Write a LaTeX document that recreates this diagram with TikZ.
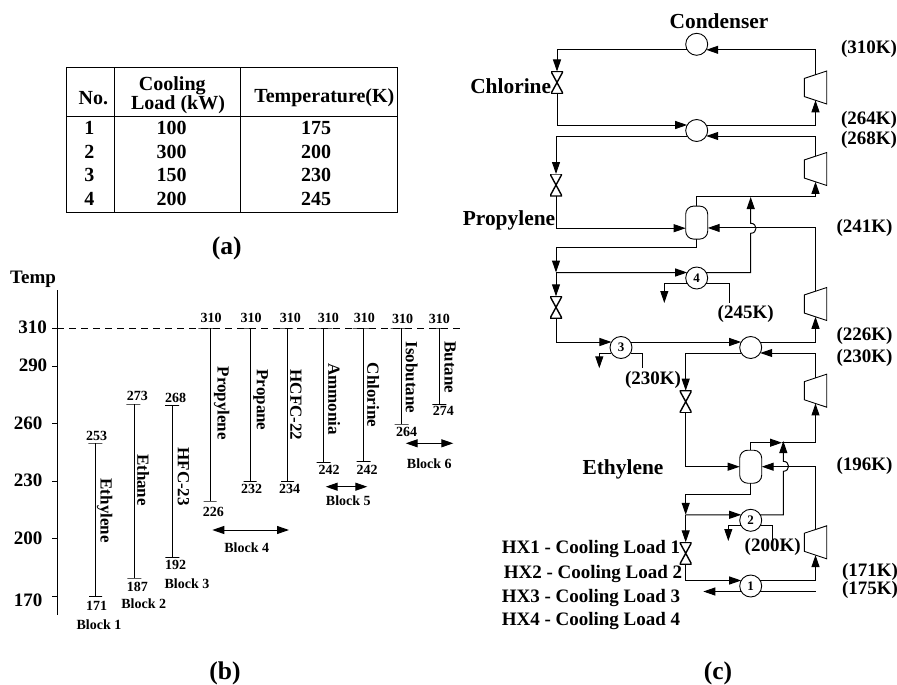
\documentclass[tikz,border=0pt]{standalone}
\usepackage{fontspec}
\setmainfont{Liberation Serif}
\usepackage{tikz}
\usetikzlibrary{shapes.geometric, arrows.meta}
\tikzstyle{line} = [line width=1pt]
\tikzstyle{arrow} = [line width=1pt,->,>={Triangle[length=12pt,width=8pt]}]
\tikzstyle{twoway} = [line width=1pt,<->,>={Triangle[length=12pt,width=8pt]}]
\tikzstyle{hx} = [circle, draw=black, line width=0.9pt, minimum size=22pt, inner sep=0pt, outer sep=0pt, font=\fontsize{13}{13}\selectfont\bfseries]
\tikzstyle{drum} = [rectangle, rounded corners=8pt, draw=black, line width=0.9pt, minimum width=22pt, minimum height=33pt, inner sep=0pt, outer sep=0pt]
\tikzstyle{valve} = [rectangle, minimum width=12pt, minimum height=22pt, inner sep=0pt, outer sep=0pt, path picture={\draw [line width=1.4pt] (path picture bounding box.north west) -- (path picture bounding box.south east) -- (path picture bounding box.south west) -- (path picture bounding box.north east) -- cycle;}]
\tikzstyle{comp} = [trapezium, trapezium angle=65.9, trapezium stretches=true, rotate=90, draw=black, line width=0.9pt, minimum width=33pt, minimum height=22.4pt, inner sep=0pt, outer sep=0pt]
\tikzstyle{tick} = [rectangle, draw=black, line width=1pt, minimum height=0pt, inner sep=0pt, outer sep=0pt]
\tikzstyle{big} = [inner sep=0pt, font=\fontsize{21.4}{21.4}\selectfont\bfseries]
\tikzstyle{temp} = [inner sep=0pt, font=\fontsize{19}{19}\selectfont\bfseries]
\tikzstyle{cell} = [inner sep=0pt, font=\fontsize{20}{20}\selectfont\bfseries]
\tikzstyle{caption} = [inner sep=0pt, font=\fontsize{25.5}{25.5}\selectfont\bfseries]
\tikzstyle{small} = [inner sep=0pt, font=\fontsize{14}{14}\selectfont\bfseries]
\tikzstyle{fluid} = [inner sep=0pt, rotate=-90, font=\fontsize{17}{17}\selectfont\bfseries]

\begin{document}
\begin{tikzpicture}[x=1pt, y=-1pt]
\useasboundingbox (0,0) rectangle (897,685);

% Table
\node (tab) [rectangle, draw=black, line width=1pt, minimum width=330.3pt, minimum height=144pt, inner sep=0pt, outer sep=0pt] at (231.85,140) {};
\coordinate (headl) at (66.7,116);
\coordinate (headr) at (397,116);
\coordinate (coll) at (114.7,68);
\coordinate (colm) at (240.7,68);
\draw [line] (headl) -- (headr);
\draw [line] (coll) -- (coll |- tab.south);
\draw [line] (colm) -- (colm |- tab.south);
\node (no) [cell] at (93.3,97.7) {No.};
\node (cool) [cell] at (172.3,86) {Cooling};
\node (load) [cell] at (178,104.3) {Load (kW)};
\node (tmp) [cell] at (324.3,98) {Temperature(K)};
\node (n1) [cell] at (89.3,127.7) {1};
\node (n2) [cell] at (89.3,151.7) {2};
\node (n3) [cell] at (89.3,175.3) {3};
\node (n4) [cell] at (89.3,199) {4};
\node (l1) [cell] at (171.7,127.7) {100};
\node (l2) [cell] at (171.7,151.7) {300};
\node (l3) [cell] at (171.7,175.3) {150};
\node (l4) [cell] at (171.7,199) {200};
\node (t1) [cell] at (316,127.7) {175};
\node (t2) [cell] at (316,151.7) {200};
\node (t3) [cell] at (316,175.3) {230};
\node (t4) [cell] at (316,199) {245};
\node (capa) [caption] at (226.7,248) {(a)};

% Temperature axis
\coordinate (axtop) at (57,290);
\coordinate (axbot) at (57,615);
\coordinate (dashr) at (461.7,328);
\draw [line] (axtop) -- (axbot);
\node (temp) [temp] at (33,279) {Temp};
\node (a310) [temp] at (32.7,327) {310};
\node (a290) [temp] at (33,365.5) {290};
\node (a260) [temp] at (28,423) {260};
\node (a230) [temp] at (28,480) {230};
\node (a200) [temp] at (28,538) {200};
\node (a170) [temp] at (28,600) {170};
\coordinate (m310) at (52.3,328);
\coordinate (m290) at (52.3,366.3);
\coordinate (m260) at (52.3,423.7);
\coordinate (m230) at (52.3,481.3);
\coordinate (m200) at (52.3,538.7);
\coordinate (m170) at (52.3,596.3);
\draw [line] (m310) -- (axtop |- m310);
\draw [line] (m290) -- (axtop |- m290);
\draw [line] (m260) -- (axtop |- m260);
\draw [line] (m230) -- (axtop |- m230);
\draw [line] (m200) -- (axtop |- m200);
\draw [line] (m170) -- (axtop |- m170);
\draw [line, dash pattern=on 7pt off 5pt] (axtop |- m310) -- (dashr);

% Fluid bars, blocks 1 to 3
\node (ethyT) [tick, minimum width=14pt] at (95.3,443) {};
\node (ethyB) [tick, minimum width=13pt] at (95.7,596.3) {};
\draw [line] (ethyB.center) -- (ethyB.center |- ethyT.center);
\node (ethy1) [small] at (96.7,436) {253};
\node (ethy2) [small] at (96.7,606) {171};
\node (ethyN) [fluid] at (104.7,510.7) {Ethylene};
\node (blk1) [small] at (99,625) {Block 1};

\node (ethaT) [tick, minimum width=14pt] at (133.3,404) {};
\node (ethaB) [tick, minimum width=14pt] at (134.3,578) {};
\draw [line] (ethaB.center) -- (ethaB.center |- ethaT.center);
\node (etha1) [small] at (137.3,396.3) {273};
\node (etha2) [small] at (137.3,586.7) {187};
\node (ethaN) [fluid] at (143.3,480) {Ethane};
\node (blk2) [small] at (143.7,603.3) {Block 2};

\node (hfcT) [tick, minimum width=14pt] at (172,405.7) {};
\node (hfcB) [tick, minimum width=14pt] at (172.3,557.3) {};
\draw [line] (hfcB.center) -- (hfcB.center |- hfcT.center);
\node (hfc1) [small] at (175.7,398.3) {268};
\node (hfc2) [small] at (175.7,565) {192};
\node (hfcN) [fluid] at (183.3,476.7) {HFC-23};
\node (blk3) [small] at (187,584) {Block 3};

% Block 4
\node (propyT) [tick, minimum width=18.5pt] at (207.5,328) {};
\node (propyB) [tick, minimum width=13pt] at (210,501) {};
\draw [line] (propyB.center) -- (propyB.center |- propyT.center);
\node (propy1) [small] at (211,318.3) {310};
\node (propy2) [small] at (213.3,512.3) {226};
\node (propyN) [fluid] at (221.7,403.3) {Propylene};

\node (propaT) [tick, minimum width=18pt] at (246.2,328) {};
\node (propaB) [tick, minimum width=13pt] at (250,481.3) {};
\draw [line] (propaB.center) -- (propaB.center |- propaT.center);
\node (propa1) [small] at (251,318.3) {310};
\node (propa2) [small] at (251.7,489) {232};
\node (propaN) [fluid] at (260.7,400) {Propane};

\node (hcfcT) [tick, minimum width=17pt] at (284.7,328) {};
\node (hcfcB) [tick, minimum width=13pt] at (287.7,481.3) {};
\draw [line] (hcfcB.center) -- (hcfcB.center |- hcfcT.center);
\node (hcfc1) [small] at (290.3,318.3) {310};
\node (hcfc2) [small] at (289.7,489) {234};
\node (hcfcN) [fluid] at (296,405) {HCFC-22};

\coordinate (b4l) at (212.3,530);
\coordinate (b4r) at (289,530);
\draw [twoway] (b4l) -- (b4r);
\node (blk4) [small] at (246.7,547.3) {Block 4};

% Block 5
\node (ammT) [tick, minimum width=19pt] at (322.8,328) {};
\node (ammB) [tick, minimum width=14pt] at (323.7,462.3) {};
\draw [line] (ammB.center) -- (ammB.center |- ammT.center);
\node (amm1) [small] at (328.3,318.3) {310};
\node (amm2) [small] at (329,470) {242};
\node (ammN) [fluid] at (334.3,399) {Ammonia};

\node (chloT) [tick, minimum width=18pt] at (361.7,328) {};
\node (chloB) [tick, minimum width=14pt] at (363.7,461.7) {};
\draw [line] (chloB.center) -- (chloB.center |- chloT.center);
\node (chlo1) [small] at (364.3,318.3) {310};
\node (chlo2) [small] at (367,469.7) {242};
\node (chloN) [fluid] at (373.3,395) {Chlorine};

\coordinate (b5l) at (325.7,486.7);
\coordinate (b5r) at (367.3,486.7);
\draw [twoway] (b5l) -- (b5r);
\node (blk5) [small] at (348.3,501) {Block 5};

% Block 6
\node (isoT) [tick, minimum width=19pt] at (400,328) {};
\node (isoB) [tick, minimum width=14pt] at (401.7,424) {};
\draw [line] (isoB.center) -- (isoB.center |- isoT.center);
\node (iso1) [small] at (402.7,319) {310};
\node (iso2) [small] at (406.7,432.3) {264};
\node (isoN) [fluid] at (411.7,377.3) {Isobutane};

\node (butT) [tick, minimum width=17pt] at (437.5,328) {};
\node (butB) [tick, minimum width=14pt] at (439.3,404.3) {};
\draw [line] (butB.center) -- (butB.center |- butT.center);
\node (but1) [small] at (439.3,319) {310};
\node (but2) [small] at (443.3,411.3) {274};
\node (butN) [fluid] at (450,367.3) {Butane};

\coordinate (b6l) at (405.7,443.3);
\coordinate (b6r) at (453.3,443.3);
\draw [twoway] (b6l) -- (b6r);
\node (blk6) [small] at (429.3,463.3) {Block 6};
\node (capb) [caption] at (225,673) {(b)};

% Cascade equipment
\node (cond) [hx] at (696.7,44.3) {};
\node (cas1) [hx] at (696.7,130.5) {};
\node (drum1) [drum] at (696.7,222.6) {};
\node (hx4) [hx] at (696.7,278) {4};
\node (hx3) [hx] at (621,347.5) {3};
\node (cas2) [hx] at (750.7,347.5) {};
\node (drum2) [drum] at (750.7,466.7) {};
\node (hx2) [hx] at (750.7,520.3) {2};
\node (hx1) [hx] at (750.7,586) {1};
\node (v1) [valve] at (557,82.5) {};
\node (v2) [valve] at (556,185) {};
\node (v3) [valve] at (556,307.3) {};
\node (v4) [valve] at (685.7,401.7) {};
\node (v5) [valve] at (685.7,553.3) {};
\node (c1) [comp] at (815.5,87.5) {\phantom{x}};
\node (c2) [comp] at (815.5,169) {\phantom{x}};
\node (c3) [comp] at (815.5,304) {\phantom{x}};
\node (c4) [comp] at (815.5,390.7) {\phantom{x}};
\node (c5) [comp] at (815.5,542.3) {\phantom{x}};

% Chlorine loop
\draw [arrow] (c1.right side) |- (cond.-30);
\draw [arrow] (cond.-150) -| (v1.north);
\draw [arrow] (v1.south) |- (cas1.150);
\draw [arrow] (cas1.30) -| (c1.left side);

% Propylene loop
\coordinate (p1) at (815.5,196);
\coordinate (p2) at (556,247);
\coordinate (p3) at (556,272.5);
\coordinate (p4) at (750.7,197);
\coordinate (p5) at (729,303);
\coordinate (p6) at (664.3,303);
\coordinate (hopa) at (750.7,233.3);
\coordinate (hopb) at (750.7,223.3);
\draw [arrow] (c2.right side) |- (cas1.-30);
\draw [arrow] (cas1.-150) -| (v2.north);
\draw [arrow] (v2.south) |- (drum1.-153.4);
\draw [arrow] (c3.right side) |- (drum1.-26.6);
\draw [line] (drum1.north) |- (p1);
\draw [arrow] (p1) -- (c2.left side);
\draw [line] (drum1.south) |- (p2);
\draw [arrow] (p2) -- (p3);
\draw [arrow] (p3) -- (hx4.150);
\draw [arrow] (p3) -- (v3.north);
\draw [arrow] (hx4.30) -| (hopa) .. controls +(7,0) and +(7,0) .. (hopb) -- (p4);
\draw [line] (hx4.-30) -| (p5);
\draw [arrow] (hx4.-150) -| (p6);

% Ethylene loop
\coordinate (e1) at (782,442.7);
\coordinate (e2) at (685.7,494.3);
\coordinate (e3) at (685.7,514.8);
\coordinate (e4) at (783.3,441);
\coordinate (e5) at (772.7,541.7);
\coordinate (e6) at (728.3,541);
\coordinate (e7) at (642.7,368.3);
\coordinate (e8) at (599.3,368.3);
\coordinate (e9) at (703.3,590);
\coordinate (hopc) at (783.3,471.3);
\coordinate (hopd) at (783.3,461.3);
\draw [arrow] (v3.south) |- (hx3.150);
\draw [arrow] (hx3.30) -- (cas2.150);
\draw [line] (hx3.-30) -| (e7);
\draw [arrow] (hx3.-150) -| (e8);
\draw [arrow] (cas2.30) -| (c3.left side);
\draw [arrow] (c4.right side) |- (cas2.-30);
\draw [arrow] (cas2.-150) -| (v4.north);
\draw [arrow] (v4.south) |- (drum2.west);
\draw [arrow] (c5.right side) |- (drum2.east);
\draw [arrow] (drum2.north) |- (e1);
\draw [arrow] (e1) -| (c4.left side);
\draw [line] (drum2.south) |- (e2);
\draw [arrow] (e2) -- (e3);
\draw [arrow] (e3) -- (hx2.150);
\draw [arrow] (e3) -- (v5.north);
\draw [arrow] (hx2.30) -| (hopc) .. controls +(7,0) and +(7,0) .. (hopd) -- (e4);
\draw [line] (hx2.-30) -| (e5);
\draw [arrow] (hx2.-150) -| (e6);
\draw [arrow] (v5.south) |- (hx1.150);
\draw [arrow] (hx1.30) -| (c5.left side);
\draw [line] (hx1.-30) -- (hx1.-30 -| c5);
\draw [arrow] (hx1.-150) -- (hx1.-150 -| e9);

% Cascade labels
\node (lcond) [big] at (719,21) {Condenser};
\node (lchlo) [big] at (510.7,86) {Chlorine};
\node (lprop) [big] at (509,220) {Propylene};
\node (lethy) [big] at (623,469) {Ethylene};
\node (k310) [temp] at (869,49) {(310K)};
\node (k264) [temp] at (869,120) {(264K)};
\node (k268) [temp] at (869,140) {(268K)};
\node (k241) [temp] at (864.5,228) {(241K)};
\node (k245) [temp] at (745.7,314) {(245K)};
\node (k226) [temp] at (864.5,336) {(226K)};
\node (k230) [temp] at (864.5,358) {(230K)};
\node (k230b) [temp] at (653,380) {(230K)};
\node (k196) [temp] at (864.5,466) {(196K)};
\node (k200) [temp] at (772.7,547) {(200K)};
\node (k171) [temp] at (870,572) {(171K)};
\node (k175) [temp] at (870,590) {(175K)};
\node (leg1) [temp] at (591,549) {HX1 - Cooling Load 1};
\node (leg2) [temp] at (593,574) {HX2 - Cooling Load 2};
\node (leg3) [temp] at (591,598) {HX3 - Cooling Load 3};
\node (leg4) [temp] at (591,621) {HX4 - Cooling Load 4};
\node (capc) [caption] at (718,673) {(c)};

\end{tikzpicture}
\end{document}
